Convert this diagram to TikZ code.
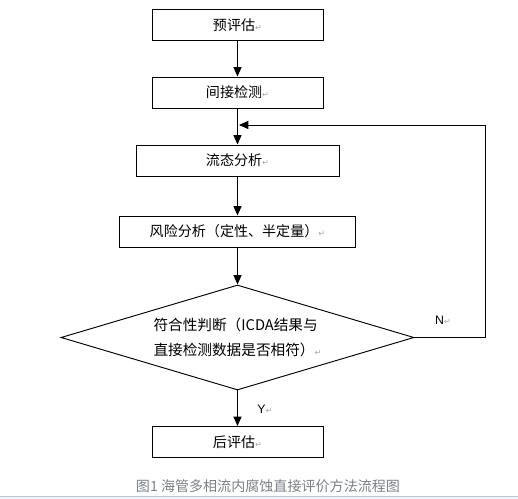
\documentclass[tikz,border=0pt]{standalone}
\usepackage{fontspec}
\setmainfont{Noto Sans CJK SC}
\newfontfamily\latinfont{Liberation Sans}
\newfontfamily\markfont{DejaVu Sans}
\usetikzlibrary{arrows.meta,shapes.geometric}
\definecolor{capgray}{RGB}{122,128,138}
\definecolor{rulebl}{RGB}{178,204,232}
\definecolor{rulefill}{RGB}{242,246,251}
\newcommand{\pmk}{{\markfont\fontsize{7pt}{7pt}\selectfont\color{black!35}↵}}
\tikzset{
  box/.style={draw, line width=0.8pt, minimum height=0.93cm, inner sep=0pt, font=\fontsize{12pt}{14pt}\selectfont},
  kstep/.style={box, minimum width=5.13cm},
  kwide/.style={box, minimum width=6.09cm},
  kwider/.style={box, minimum width=7.08cm},
  kdecision/.style={draw, diamond, aspect=3.36, line width=0.8pt, minimum width=10.59cm, minimum height=3.15cm, inner sep=0pt, align=left, font=\fontsize{12.5pt}{21pt}\selectfont},
  flow/.style={-{Triangle[length=2.8mm, width=2.4mm]}, line width=0.8pt},
  tag/.style={font=\latinfont\fontsize{10.5pt}{12pt}\selectfont},
}

\begin{document}
\begin{tikzpicture}[x=0.03cm, y=-0.03cm]
    \useasboundingbox (0,0) rectangle (518,499);
    \node[kstep] (pre) at (237.5,25) {预评估\pmk};
    \node[kstep] (ind) at (237.5,92.5) {间接检测\pmk};
    \node[kwide] (flowan) at (237.5,160.5) {流态分析\pmk};
    \node[kwider] (risk) at (237.5,231.5) {风险分析（定性、半定量）\pmk};
    \node[kdecision] (judge) at (237.5,337.5) {符合性判断（ICDA结果与\\直接检测数据是否相符）\pmk};
    \node[kstep] (post) at (237.5,442) {后评估\pmk};
    \coordinate (back) at (485,125);
    \coordinate (merge) at (239,125);
    \draw[flow] (pre) -- (ind);
    \draw[flow] (ind) -- (flowan);
    \draw[flow] (flowan) -- (risk);
    \draw[flow] (risk) -- (judge);
    \draw[flow] (judge) -- (post);
    \draw[flow] (judge.east) -| (back) -- (merge);
    \node[tag] (no) at (443,320) {N\pmk};
    \node[tag] (yes) at (265,409) {Y\pmk};
    \node[font=\fontsize{12pt}{14pt}\selectfont, text=capgray] (caption) at (268,486) {图1 海管多相流内腐蚀直接评价方法流程图};
    % bottom rule of the page
    \fill[rulefill] (0,496.5) rectangle (518,499);
    \draw[rulebl, line width=0.6pt] (0,496.5) -- (518,496.5);
  \end{tikzpicture}
\end{document}
